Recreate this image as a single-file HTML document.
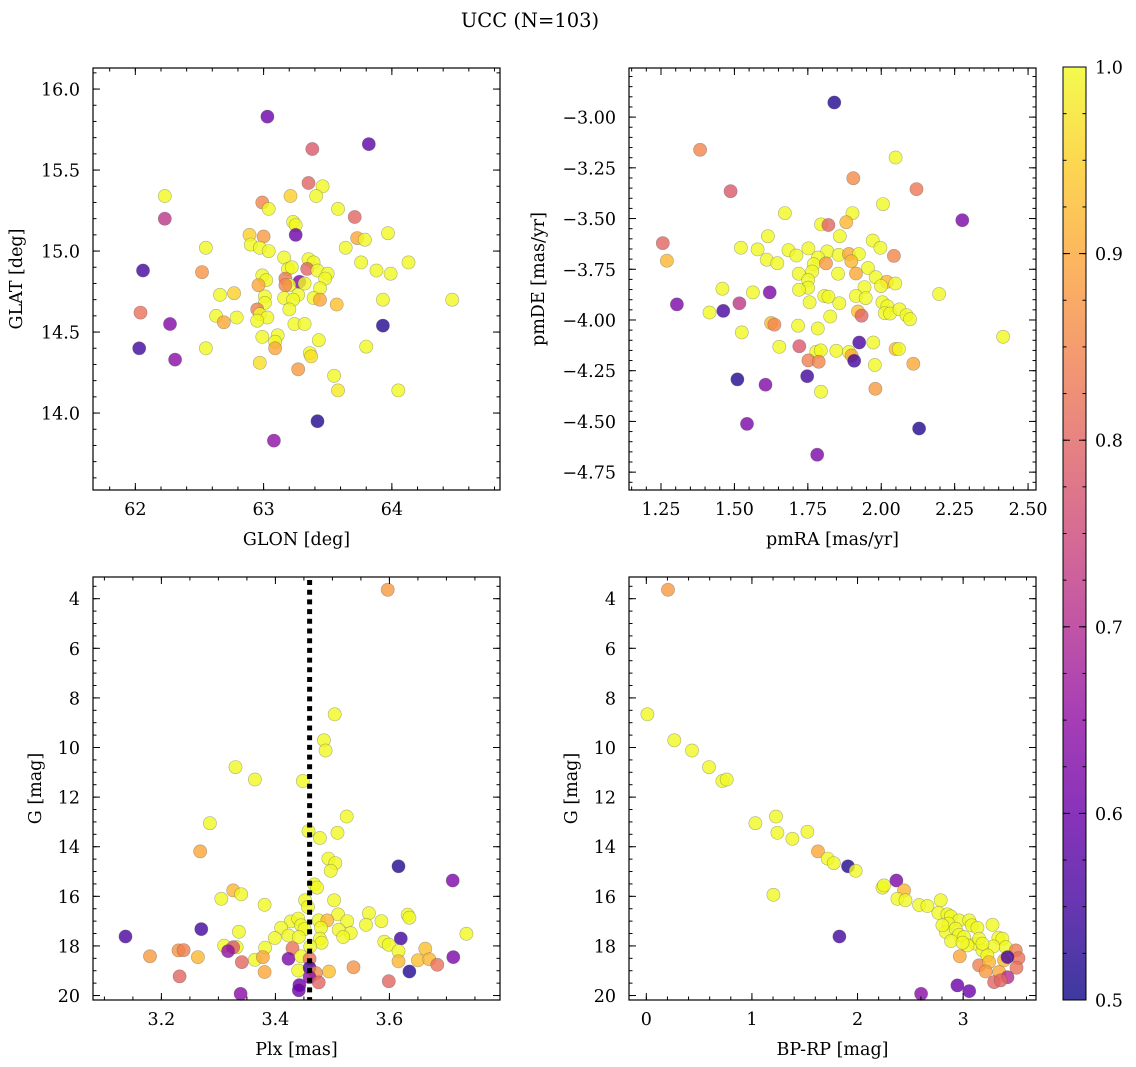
<!DOCTYPE html>
<html><head><meta charset="utf-8"><title>UCC (N=103)</title>
<style>
html,body{margin:0;padding:0;background:#fff;}
svg{display:block;font-family:"DejaVu Serif","Liberation Serif",serif;}
</style></head>
<body>
<svg id="fig" width="1136" height="1067" viewBox="0 0 1136 1067" xmlns="http://www.w3.org/2000/svg">
<defs>
<linearGradient id="cbgrad" x1="0" y1="1" x2="0" y2="0">
<stop offset="0" stop-color="#0d0887"/><stop offset="0.1" stop-color="#41049d"/><stop offset="0.2" stop-color="#6a00a8"/><stop offset="0.3" stop-color="#8f0da4"/><stop offset="0.4" stop-color="#b12a90"/><stop offset="0.5" stop-color="#cc4778"/><stop offset="0.6" stop-color="#e16462"/><stop offset="0.7" stop-color="#f2844b"/><stop offset="0.8" stop-color="#fca636"/><stop offset="0.9" stop-color="#fcce25"/><stop offset="1" stop-color="#f0f921"/>
</linearGradient>
</defs>
<text x="530" y="27" font-size="19.5" text-anchor="middle">UCC (N=103)</text>
</svg>
<script>
// ---------- Panel 1: GLON / GLAT ----------
const glon = [63.03,63.38,63.82,63.35,63.46,63.41,63.21,62.23,62.99,63.04,63.58,63.71,62.23,63.23,63.25,63.25,62.89,63.0,63.73,63.79,63.97,62.90,62.97,63.04,62.55,63.64,63.16,63.76,64.13,63.35,63.39,63.19,63.22,63.34,63.42,62.06,62.52,63.88,63.99,63.50,63.48,62.99,63.02,63.17,63.28,63.20,63.17,62.96,63.32,63.44,63.27,62.66,62.77,63.01,63.01,63.16,63.23,63.39,63.44,63.57,63.93,64.47,63.20,62.95,62.97,62.04,62.63,62.79,63.03,62.95,62.69,62.27,63.24,63.32,63.93,62.99,63.11,63.09,63.43,63.09,62.03,62.55,63.80,63.36,63.37,62.31,62.97,63.27,63.55,63.58,64.05,63.42,63.08];
const glat = [15.83,15.63,15.66,15.42,15.40,15.34,15.34,15.34,15.30,15.26,15.26,15.21,15.20,15.18,15.16,15.10,15.10,15.09,15.08,15.07,15.11,15.04,15.02,15.0,15.02,15.02,14.96,14.93,14.93,14.95,14.93,14.89,14.90,14.89,14.88,14.88,14.87,14.88,14.86,14.86,14.83,14.85,14.82,14.83,14.81,14.79,14.79,14.79,14.80,14.77,14.73,14.73,14.74,14.72,14.68,14.71,14.70,14.71,14.70,14.67,14.70,14.70,14.64,14.64,14.61,14.62,14.60,14.59,14.59,14.57,14.56,14.55,14.55,14.55,14.54,14.47,14.48,14.44,14.45,14.40,14.40,14.40,14.41,14.37,14.35,14.33,14.31,14.27,14.23,14.14,14.14,13.95,13.83];
const prob1 = [0.6,0.78,0.58,0.8,1,1,0.95,1,0.85,1,1,0.8,0.72,1,1,0.6,0.95,0.88,0.9,1,1,1,1,1,1,1,1,1,1,1,1,1,1,0.8,1,0.55,0.87,1,1,1,1,1,1,0.83,0.62,1,0.85,0.9,1,1,1,1,0.95,1,1,1,1,1,0.9,0.93,1,1,1,0.84,1,0.82,1,1,1,1,0.9,0.63,1,1,0.52,1,1,1,1,0.9,0.55,1,1,1,0.97,0.64,0.97,0.88,1,0.98,1,0.52,0.65];

// ---------- Panel 2: pmRA / pmDE ----------
const pmra = [1.840,1.383,2.049,1.905,2.120,1.487,2.006,1.672,1.902,1.881,1.795,1.820,2.276,1.859,1.614,1.971,1.256,1.997,1.522,1.579,1.684,1.752,1.816,1.711,1.855,1.890,1.924,2.043,1.270,1.610,1.646,1.785,1.770,1.812,1.898,1.955,1.914,1.719,1.765,1.853,1.981,2.019,2.048,1.751,1.999,1.751,1.720,1.943,1.459,1.563,1.620,2.197,1.914,1.806,1.820,1.947,1.304,1.517,1.756,1.857,2.004,2.021,1.462,1.415,2.012,2.030,2.062,1.921,1.933,2.086,2.098,1.826,1.625,1.636,1.717,1.784,1.525,2.415,1.925,1.973,1.653,1.721,1.779,1.794,1.847,1.890,1.899,1.908,2.049,2.060,1.752,1.787,1.978,2.109,1.510,1.748,1.606,1.795,1.980,1.543,2.129,1.782];
const pmde = [-2.928,-3.161,-3.199,-3.301,-3.355,-3.365,-3.429,-3.473,-3.473,-3.518,-3.529,-3.532,-3.508,-3.587,-3.587,-3.608,-3.621,-3.644,-3.644,-3.652,-3.656,-3.647,-3.662,-3.682,-3.679,-3.675,-3.675,-3.684,-3.708,-3.703,-3.720,-3.692,-3.725,-3.721,-3.711,-3.744,-3.771,-3.772,-3.761,-3.772,-3.789,-3.812,-3.820,-3.803,-3.833,-3.841,-3.851,-3.838,-3.846,-3.864,-3.864,-3.872,-3.882,-3.882,-3.885,-3.892,-3.923,-3.918,-3.913,-3.918,-3.913,-3.932,-3.955,-3.963,-3.966,-3.968,-3.948,-3.958,-3.979,-3.976,-3.996,-3.983,-4.015,-4.023,-4.028,-4.042,-4.061,-4.083,-4.111,-4.111,-4.132,-4.129,-4.157,-4.150,-4.152,-4.158,-4.175,-4.201,-4.143,-4.143,-4.199,-4.206,-4.222,-4.216,-4.293,-4.277,-4.319,-4.354,-4.339,-4.512,-4.535,-4.664];
const prob2 = [0.52,0.85,1,0.86,0.83,0.78,1,1,1,0.92,1,0.8,0.62,1,1,1,0.8,1,1,1,1,1,1,1,1,0.9,1,0.85,0.92,1,1,1,1,0.88,0.92,1,0.9,1,1,1,1,0.92,1,1,1,1,1,1,1,1,0.62,1,1,1,1,1,0.62,0.72,1,1,1,1,0.56,1,1,1,1,0.93,0.8,1,1,1,0.92,0.85,1,1,1,1,0.56,1,1,0.78,1,1,1,1,0.9,0.55,0.93,1,0.84,0.85,1,0.9,0.52,0.55,0.63,1,0.88,0.62,0.52,0.62];

// ---------- Panel 3: Plx / G ----------
const plx = [3.597,3.504,3.485,3.488,3.330,3.364,3.448,3.525,3.285,3.458,3.509,3.478,3.268,3.493,3.505,3.497,3.616,3.711,3.468,3.473,3.326,3.340,3.305,3.452,3.503,3.457,3.381,3.510,3.564,3.632,3.635,3.586,3.427,3.440,3.476,3.491,3.526,3.559,3.445,3.410,3.451,3.480,3.511,3.532,3.519,3.423,3.441,3.336,3.270,3.137,3.399,3.478,3.735,3.620,3.591,3.599,3.481,3.310,3.332,3.382,3.461,3.430,3.326,3.317,3.616,3.663,3.230,3.239,3.180,3.264,3.364,3.378,3.423,3.445,3.460,3.341,3.616,3.650,3.670,3.712,3.684,3.635,3.440,3.460,3.471,3.494,3.537,3.381,3.232,3.460,3.476,3.599,3.442,3.441,3.339];
const gmag3 = [3.64,8.66,9.71,10.12,10.79,11.29,11.35,12.78,13.05,13.37,13.44,13.65,14.19,14.48,14.66,14.97,14.79,15.36,15.52,15.65,15.76,15.92,16.10,16.16,16.16,16.43,16.34,16.73,16.68,16.74,16.86,17.00,17.01,16.90,16.97,16.97,17.00,17.15,17.17,17.27,17.32,17.27,17.35,17.48,17.64,17.58,17.64,17.43,17.32,17.62,17.68,17.71,17.51,17.70,17.83,17.95,17.87,17.99,18.05,18.07,18.02,18.09,18.05,18.21,18.21,18.11,18.18,18.17,18.42,18.45,18.56,18.45,18.52,18.42,18.52,18.65,18.62,18.58,18.54,18.45,18.76,19.03,18.99,18.88,19.09,19.03,18.86,19.05,19.23,19.26,19.47,19.42,19.58,19.79,19.93];
const prob3 = [0.88,1,1,1,1,1,1,1,1,1,1,1,0.9,1,1,1,0.52,0.62,1,1,0.92,1,1,1,1,1,1,1,1,1,1,1,1,1,1,0.92,1,1,1,1,1,1,1,1,1,1,1,1,0.55,0.56,1,1,1,0.55,1,1,1,1,1,1,1,0.82,0.78,0.65,1,0.93,0.87,0.84,0.88,0.92,1,0.9,0.62,1,0.82,0.8,0.92,0.93,0.92,0.62,0.82,0.52,1,0.55,0.86,0.93,0.87,0.9,0.8,0.65,0.8,0.8,0.6,0.6,0.64];
const plxMedian = 3.46;

// ---------- Panel 4: BP-RP / G ----------
const bprp = [0.205,0.01,0.265,0.433,0.594,0.720,0.761,1.033,1.228,1.241,1.383,1.525,1.626,1.718,1.775,1.910,1.983,1.203,2.236,2.251,2.368,2.441,2.378,2.454,2.583,2.662,2.788,2.766,2.851,2.883,2.962,3.057,3.082,2.861,2.836,2.930,3.135,2.962,3.009,2.886,3.120,3.151,3.278,3.334,3.372,3.287,3.404,3.183,3.230,3.041,2.968,3.499,3.524,3.388,3.420,3.151,3.246,3.341,3.214,3.505,3.420,3.293,3.356,1.828,2.946,3.057,2.602,2.804,2.994,3.183];
const gmag4 = [3.64,8.66,9.71,10.12,10.79,11.35,11.29,13.05,12.78,13.44,13.68,13.40,14.19,14.48,14.66,14.79,14.97,15.94,15.65,15.56,15.36,15.76,16.10,16.16,16.35,16.39,16.16,16.67,16.73,16.81,16.97,16.97,17.17,17.10,17.44,17.31,17.27,17.55,17.64,17.80,17.91,17.71,17.15,17.67,17.71,18.02,18.05,18.18,18.38,17.98,18.42,18.18,18.49,18.58,18.45,18.78,18.65,19.05,19.03,18.88,19.26,19.46,19.39,17.62,19.59,19.82,19.93,17.17,17.87,17.91];
const prob4 = [0.88,1,1,1,1,1,1,1,1,1,1,1,0.9,1,1,0.52,1,1,1,1,0.62,0.92,1,1,1,1,1,1,1,1,1,1,1,1,1,1,1,1,1,1,1,1,1,1,1,1,1,1,1,1,0.9,0.84,0.82,0.92,0.55,0.84,0.92,0.9,0.88,0.82,0.7,0.8,0.8,0.55,0.6,0.6,0.64,1,1,1];

// ---------- tick arrays ----------
const p1xTicks = [62,63,64], p1yTicks = [14.0,14.5,15.0,15.5,16.0];
const p2xTicks = [1.25,1.50,1.75,2.00,2.25,2.50], p2yTicks = [-3.00,-3.25,-3.50,-3.75,-4.00,-4.25,-4.50,-4.75];
const p3xTicks = [3.2,3.4,3.6], gTicks = [4,6,8,10,12,14,16,18,20];
const p4xTicks = [0,1,2,3];
const cbTicks = [0.5,0.6,0.7,0.8,0.9,1.0];

const NS = "http://www.w3.org/2000/svg";
const svg = document.getElementById('fig');
const FS = 17.5;
function mk(tag, attrs, parent){ const e=document.createElementNS(NS,tag); for(const k in attrs) e.setAttribute(k,attrs[k]); (parent||svg).appendChild(e); return e; }

const stops=[[13,8,135],[65,4,157],[106,0,168],[143,13,164],[177,42,144],[204,71,120],[225,100,98],[242,132,75],[252,166,54],[252,206,37],[240,249,33]];
function plasma(p){ let t=Math.max(0,Math.min(1,(p-0.5)/0.5))*10; const i=Math.min(9,Math.floor(t)), f=t-i; const a=stops[i], b=stops[i+1]; return 'rgb('+a.map((v,j)=>Math.round(v+(b[j]-v)*f)).join(',')+')'; }

function makeAxis(d0,d1,r0,r1){ return v=>r0+(v-d0)/(d1-d0)*(r1-r0); }

function panel(name, box, xd, yd, xMaj, yMaj, xMin, yMin, xFmt, yFmt, xLabel, yLabel, ylx, xs, ys, ps){
  const [L,T,R,B]=box;
  const sx=makeAxis(xd[0],xd[1],L,R), sy=makeAxis(yd[0],yd[1],T,B);
  const g=mk('g',{});
  
  
  const pts=mk('g',{},g);
  
  
  for(let i=0;i<xs.length;i++){
    const c=mk('circle',{cx:sx(xs[i]).toFixed(1),cy:sy(ys[i]).toFixed(1),r:6.6,fill:plasma(ps[i]),'fill-opacity':0.8,stroke:'#555','stroke-opacity':0.45,'stroke-width':0.6},pts);
    
    
  }
  const ax=mk('g',{stroke:'#000','stroke-width':1},g);
  const lo=Math.min(xd[0],xd[1]), hi=Math.max(xd[0],xd[1]);
  const ylo=Math.min(yd[0],yd[1]), yhi=Math.max(yd[0],yd[1]);
  for(let v=Math.ceil(lo/xMin-1e-6)*xMin; v<=hi+1e-9; v+=xMin){ const x=sx(v); mk('line',{x1:x,x2:x,y1:B,y2:B-3.5},ax); mk('line',{x1:x,x2:x,y1:T,y2:T+3.5},ax); }
  for(let v=Math.ceil(ylo/yMin-1e-6)*yMin; v<=yhi+1e-9; v+=yMin){ const y=sy(v); mk('line',{x1:L,x2:L+3.5,y1:y,y2:y},ax); mk('line',{x1:R,x2:R-3.5,y1:y,y2:y},ax); }
  xMaj.forEach(v=>{ const x=sx(v); mk('line',{x1:x,x2:x,y1:B,y2:B-7},ax); mk('line',{x1:x,x2:x,y1:T,y2:T+7},ax);
    const t=mk('text',{x:x,y:B+25,'font-size':FS,'text-anchor':'middle',stroke:'none',fill:'#000'},g); t.textContent=xFmt(v);
    
     });
  yMaj.forEach(v=>{ const y=sy(v); mk('line',{x1:L,x2:L+7,y1:y,y2:y},ax); mk('line',{x1:R,x2:R-7,y1:y,y2:y},ax);
    const t=mk('text',{x:L-13,y:y+6.5,'font-size':FS,'text-anchor':'end',stroke:'none',fill:'#000'},g); t.textContent=yFmt(v);
    
     });
  const fr=mk('rect',{x:L,y:T,width:R-L,height:B-T,fill:'none',stroke:'#000','stroke-width':1.2},g);
  
  
  const xl=mk('text',{x:(L+R)/2,y:B+55,'font-size':FS,'text-anchor':'middle'},g); xl.textContent=xLabel;
  
  
  const yy=(T+B)/2;
  const yl=mk('text',{x:ylx,y:yy,'font-size':FS,'text-anchor':'middle',transform:'rotate(-90 '+ylx+' '+yy+')'},g); yl.textContent=yLabel;
  
  
  return {sx,sy};
}
const minus=s=>s.replace('-','\u2212');
panel('glon-glat-panel',[93,68,500,490],[61.670,64.843],[16.130,13.525],p1xTicks,p1yTicks,0.2,0.1,v=>v.toFixed(0),v=>v.toFixed(1),'GLON [deg]','GLAT [deg]',22,glon,glat,prob1);
panel('pm-panel',[629,68,1036,490],[1.141,2.527],[-2.758,-4.838],p2xTicks,p2yTicks,0.05,0.05,v=>v.toFixed(2),v=>minus(v.toFixed(2)),'pmRA [mas/yr]','pmDE [mas/yr]',544,pmra,pmde,prob2);
const p3=panel('plx-g-panel',[93,577,500,1000],[3.080,3.794],[3.125,20.18],p3xTicks,gTicks,0.05,0.5,v=>v.toFixed(1),v=>v.toFixed(0),'Plx [mas]','G [mag]',41,plx,gmag3,prob3);
const ml=mk('line',{x1:p3.sx(plxMedian),x2:p3.sx(plxMedian),y1:580,y2:1000,stroke:'#000','stroke-width':5,'stroke-dasharray':'5 4.7'});


panel('cmd-panel',[629,577,1036,1000],[-0.164,3.690],[3.125,20.18],p4xTicks,gTicks,0.2,0.5,v=>v.toFixed(0),v=>v.toFixed(0),'BP-RP [mag]','G [mag]',577,bprp,gmag4,prob4);

// colorbar
const cbL=1063, cbR=1086, cbT=67, cbB=1000;
const cb=mk('rect',{x:cbL,y:cbT,width:cbR-cbL,height:cbB-cbT,fill:'url(#cbgrad)','fill-opacity':0.8,stroke:'#000','stroke-width':1});


const cy=makeAxis(0.5,1.0,cbB,cbT);
for(let v=0.5; v<=1.0001; v+=0.025){ const y=cy(v); mk('line',{x1:cbR,x2:cbR-3.5,y1:y,y2:y,stroke:'#000'}); mk('line',{x1:cbL,x2:cbL+3.5,y1:y,y2:y,stroke:'#000'}); }
cbTicks.forEach(v=>{ const y=cy(v); mk('line',{x1:cbR,x2:cbR-7,y1:y,y2:y,stroke:'#000'}); mk('line',{x1:cbL,x2:cbL+7,y1:y,y2:y,stroke:'#000'});
  const t=mk('text',{x:cbR+9,y:y+6.5,'font-size':FS}); t.textContent=v.toFixed(1);
  
   });
</script>
</body></html>
